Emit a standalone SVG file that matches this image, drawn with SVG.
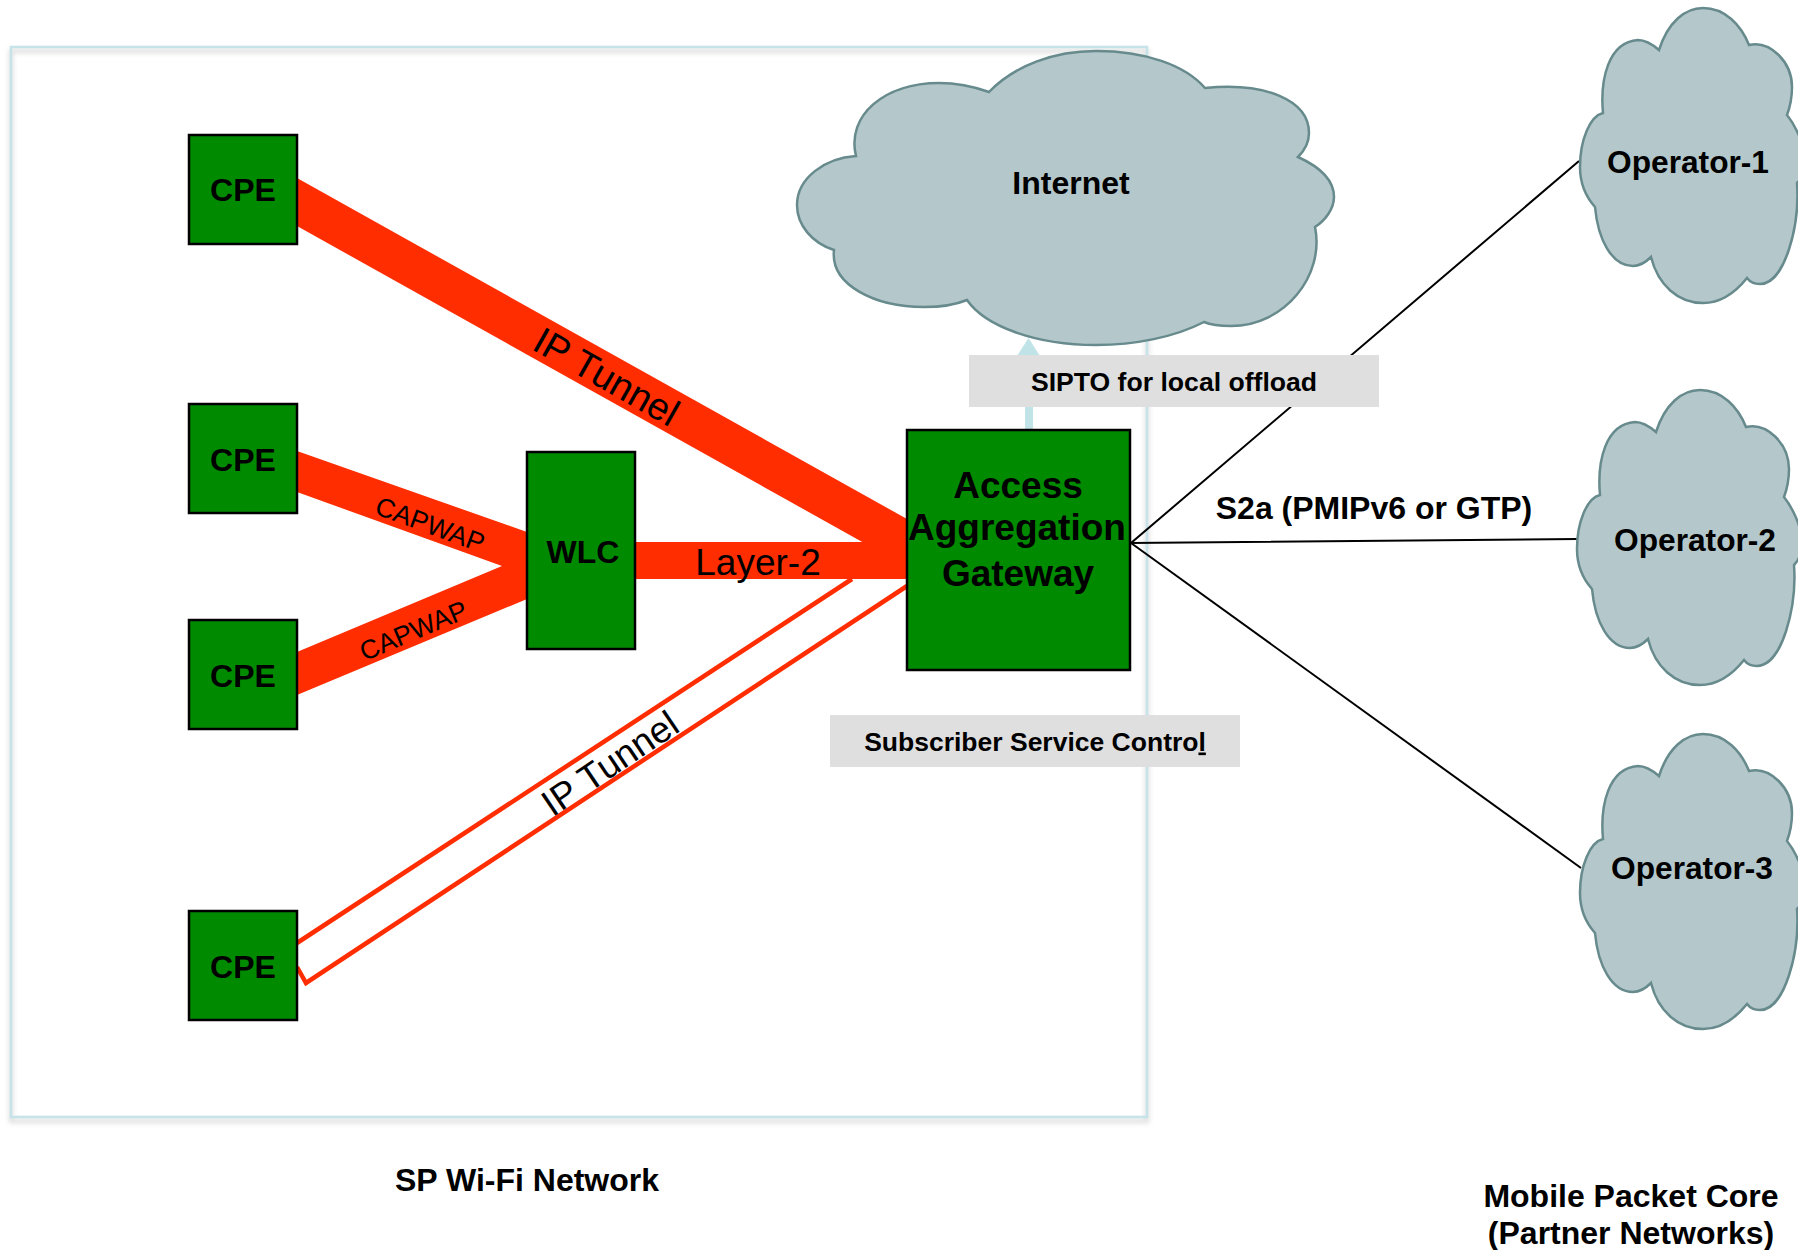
<svg xmlns="http://www.w3.org/2000/svg" width="1798" height="1250" viewBox="0 0 1798 1250">
<defs>
<filter id="sh" x="-3%" y="-3%" width="106%" height="106%"><feGaussianBlur stdDeviation="2.5"/></filter>
<path id="opcloud" d="M1603 113C1600 80 1608 42 1638 40C1645 40 1652 44 1659 50C1668 22 1685 8 1703 8C1725 8 1741 25 1749 45C1770 40 1792 62 1792 87C1792 97 1790 107 1787 115C1795 125 1805 145 1805 160C1805 170 1802 178 1797 183C1800 225 1785 284 1760 284C1755 284 1750 282 1747 278C1735 293 1720 303 1703 303C1678 303 1658 285 1651 257C1645 263 1640 266 1633 266C1612 266 1598 240 1595 207C1587 198 1580 185 1580 167C1580 140 1590 116 1603 113Z"/>
</defs>
<style>
.cloud{fill:#b4c7ca;stroke:#678a8d;stroke-width:2.5}
.box{fill:#008a00;stroke:#000;stroke-width:2.5}
.red{fill:#ff2d00;stroke:none}
.redline{fill:none;stroke:#ff2d00;stroke-width:4.5}
.wire{fill:none;stroke:#000;stroke-width:2}
.tag{fill:#dfdfdf}
text{font-family:"Liberation Sans",Arial,sans-serif;fill:#000}
.b{font-weight:bold;text-anchor:middle}
.c{font-size:32px}
.r{text-anchor:middle}
</style>
<g id="container">
<rect x="11" y="47" width="1136" height="1070" fill="#fff"/>
<rect x="11" y="51" width="1136" height="1070" fill="none" stroke="#c4c4c4" stroke-opacity="0.6" stroke-width="4" filter="url(#sh)"/>
<rect x="11" y="47" width="1136" height="1070" fill="none" stroke="#c5e3e8" stroke-width="2.5"/>
</g>
<g id="connectors">
<polyline points="1029,430 1029,350" fill="none" stroke="#c0e3e8" stroke-width="8"/>
<polygon points="1028.5,338 1017,356 1040,356" fill="#c0e3e8"/>
<polygon class="red" points="297,178 907,519 907,567 297,226"/>
<polygon class="red" points="297,451 527,532 527,599 297,695 297,652 502,566 297,492"/>
<rect class="red" x="635" y="542" width="272" height="37"/>
<polyline class="redline" points="297,943 852,579"/>
<polyline class="redline" points="297,967 306,983 907,586"/>
<polyline class="wire" points="1579,161 1131,543 1578,539"/>
<polyline class="wire" points="1131,543 1581,868"/>
</g>
<g id="internet">
<path class="cloud" d="M856 156C846 115 885 83 939 83C958 83 975 87 989 92C1015 65 1055 51 1096 51C1145 51 1185 65 1205 88C1265 82 1309 100 1309 133C1309 142 1305 150 1298 157C1320 167 1334 180 1334 197C1334 208 1326 220 1315 227C1325 275 1285 326 1231 326C1220 326 1211 325 1204 322C1175 337 1135 345 1096 345C1035 345 985 326 967 300C955 305 940 307 924 307C875 307 830 285 834 250C812 243 797 225 797 205C797 178 825 158 856 156Z"/>
<text class="b c" x="1071" y="194">Internet</text>
</g>
<g id="operator-1"><use href="#opcloud" class="cloud"/><text class="b" font-size="31.7" x="1688" y="173">Operator-1</text></g>
<g id="operator-2"><use href="#opcloud" class="cloud" transform="translate(-3 382)"/><text class="b" font-size="31.7" x="1695" y="551">Operator-2</text></g>
<g id="operator-3"><use href="#opcloud" class="cloud" transform="translate(0 726)"/><text class="b" font-size="31.7" x="1692" y="879">Operator-3</text></g>
<g id="cpe-1"><rect class="box" x="189" y="135" width="108" height="109"/><text class="b c" x="243" y="201">CPE</text></g>
<g id="cpe-2"><rect class="box" x="189" y="404" width="108" height="109"/><text class="b c" x="243" y="471">CPE</text></g>
<g id="cpe-3"><rect class="box" x="189" y="620" width="108" height="109"/><text class="b c" x="243" y="687">CPE</text></g>
<g id="cpe-4"><rect class="box" x="189" y="911" width="108" height="109"/><text class="b c" x="243" y="978">CPE</text></g>
<g id="wlc"><rect class="box" x="527" y="452" width="108" height="197"/><text class="b c" x="583" y="563">WLC</text></g>
<g id="gateway"><rect class="box" x="907" y="430" width="223" height="240"/>
<text class="b" font-size="37" x="1018" y="498">Access</text>
<text class="b" font-size="37" x="1017" y="540">Aggregation</text>
<text class="b" font-size="37" x="1018" y="586">Gateway</text></g>
<g id="sipto"><rect class="tag" x="969" y="355" width="410" height="52"/><text class="b" font-size="26.6" x="1174" y="390.5">SIPTO for local offload</text></g>
<g id="subscriber"><rect class="tag" x="830" y="715" width="410" height="52"/><text class="b" font-size="26.5" x="1035" y="750.5">Subscriber Service Contro<tspan text-decoration="underline">l</tspan></text></g>
<g id="labels">
<text class="r" font-size="37" x="758" y="575">Layer-2</text>
<text class="r" font-size="38" transform="translate(600 388) rotate(29.5)">IP Tunnel</text>
<text class="r" font-size="37" transform="translate(617 774) rotate(-34)">IP Tunnel</text>
<text class="r" font-size="26.5" transform="translate(427 533) rotate(20)">CAPWAP</text>
<text class="r" font-size="26.5" transform="translate(417 639) rotate(-23)">CAPWAP</text>
<text class="b" font-size="32" x="1374" y="519">S2a (PMIPv6 or GTP)</text>
<text class="b" font-size="32" x="527" y="1191">SP Wi-Fi Network</text>
<text class="b" font-size="32" x="1631" y="1207">Mobile Packet Core</text>
<text class="b" font-size="32" x="1631" y="1244">(Partner Networks)</text>
</g>
</svg>
